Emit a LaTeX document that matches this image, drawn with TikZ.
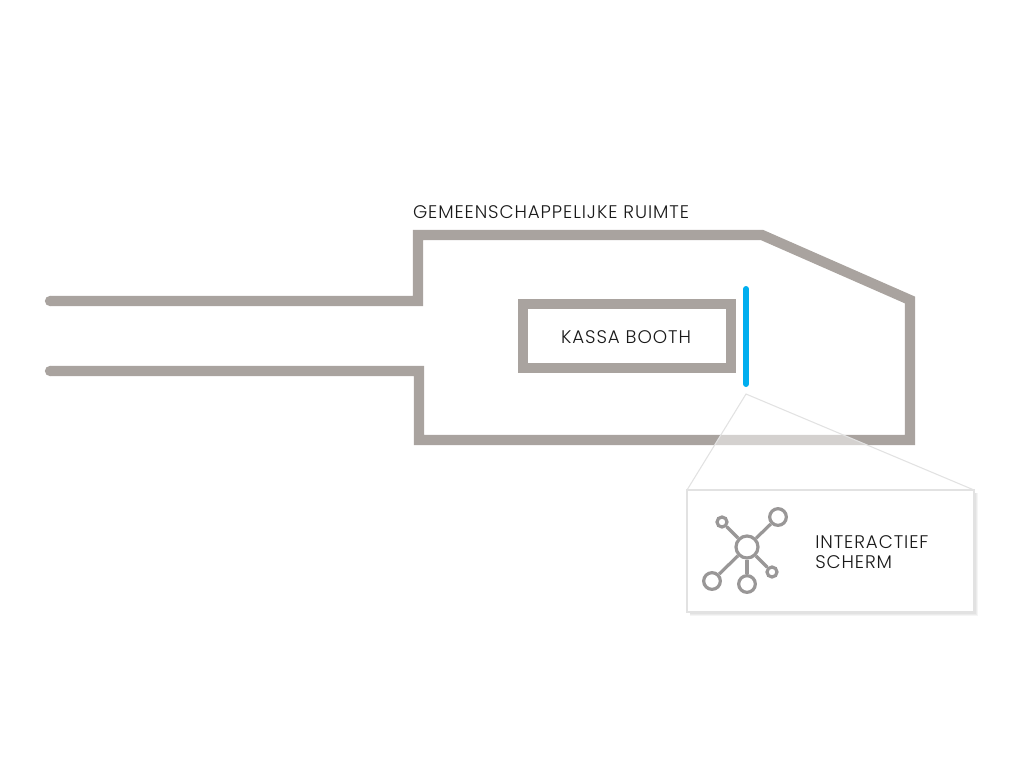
\documentclass[tikz,border=0pt]{standalone}
\usepackage{fontspec}
\setmainfont{Poppins Light}[LetterSpace=5]
\definecolor{wallGray}{HTML}{A9A39F}
\definecolor{screenBlue}{HTML}{00AEEF}
\definecolor{iconGray}{HTML}{999797}
\definecolor{boxGray}{HTML}{E2E2E2}
\begin{document}
\begin{tikzpicture}[x=0.75pt,y=-0.75pt,
                    wallLN/.style={draw=wallGray,
                                   line width=7.7pt},
                    labelND/.style={inner sep=0pt,
                                    font=\fontsize{13.7}{15}\selectfont,
                                    text=black!90},
                    hubND/.style={circle,
                                  draw=iconGray,
                                  line width=2.4pt,
                                  fill=white,
                                  inner sep=0pt,
                                  minimum size=#1}]
    \useasboundingbox (0,0) rectangle (1024,768);
    % walls
    \coordinate (upperEnd) at (50,301);
    \coordinate (lowerEnd) at (50,371);
    \draw[wallLN,line join=miter] (upperEnd) -- (418,301) -- (418,235) -- (762,235)
                                  -- (910,300) -- (910,440) -- (419,440) -- (419,371) -- (lowerEnd);
    \fill[wallGray] (upperEnd) circle (3.85pt);
    \fill[wallGray] (lowerEnd) circle (3.85pt);
    % booth and screen
    \draw[wallLN] (523,304) rectangle (731,368);
    \coordinate (screenTop) at (746,289);
    \coordinate (screenBottom) at (746,384);
    \draw[draw=screenBlue,line width=4.5pt,line cap=round] (screenTop) -- (screenBottom);
    \node[labelND](ruimte) at (551,212) {GEMEENSCHAPPELIJKE RUIMTE};
    \node[labelND](booth) at (626,337) {KASSA BOOTH};
    % callout
    \coordinate (calloutTip) at (746,394);
    \coordinate (calloutLeft) at (687,490);
    \coordinate (calloutRight) at (974,490);
    \fill[white,opacity=0.5] (calloutTip) -- (calloutRight) -- (calloutLeft) -- cycle;
    \draw[boxGray,line width=0.8pt] (calloutLeft) -- (calloutTip) -- (calloutRight);
    \foreach \s in {1,2,3,4}
        \fill[black,opacity=0.04] (690,493) rectangle (974+\s,612+\s);
    \path[fill=white,draw=boxGray,line width=1.1pt] (687,490) rectangle (974,612);
    % icon
    \node[hubND=16.5pt](hub) at (747,547) {};
    \node[hubND=12.5pt](sat1) at (778,517) {};
    \node[hubND=7.5pt](sat2) at (722,522) {};
    \node[hubND=12.5pt](sat3) at (712,581) {};
    \node[hubND=12.5pt](sat4) at (747,584) {};
    \node[hubND=7.5pt](sat5) at (772,572) {};
    \path[draw=iconGray,line width=2.4pt]
        (hub) edge (sat1)
              edge (sat2)
              edge (sat3)
              edge (sat4)
              edge (sat5);
    \node[labelND,align=left,anchor=west](scherm) at (815,552) {INTERACTIEF\\SCHERM};
\end{tikzpicture}
\end{document}
